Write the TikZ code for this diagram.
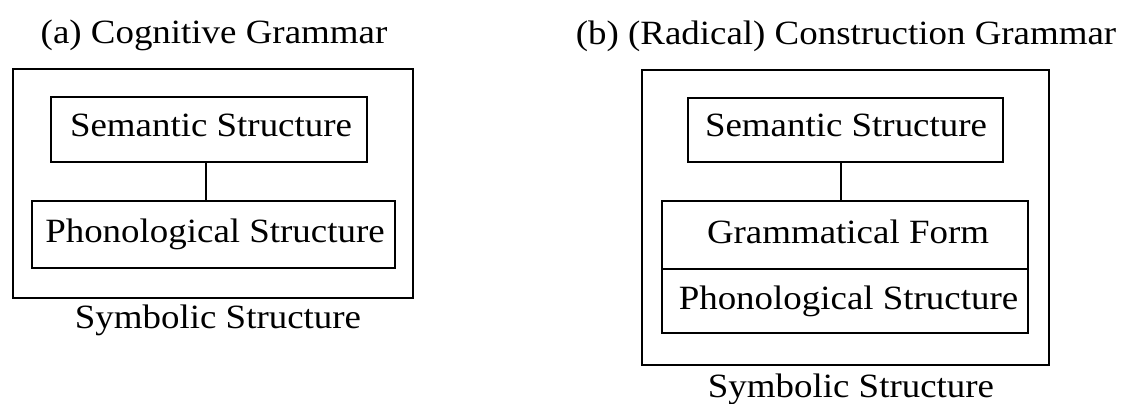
\documentclass[tikz,border=0pt]{standalone}
\usepackage{fontspec}
\setmainfont{Liberation Serif}[FakeStretch=1.086]
\begin{document}
\begin{tikzpicture}[x=0.5pt,y=-0.5pt,
  box/.style={draw=black, line width=1.2pt, rectangle, inner sep=0pt, outer sep=0pt},
  lbl/.style={anchor=base, inner sep=0pt, font=\fontsize{17}{20}\selectfont},
  link/.style={draw=black, line width=1.2pt}]
\useasboundingbox (0,0) rectangle (1125,403);

% (a) Cognitive Grammar
\node[lbl] (titleA) at (214,43) {(a) Cognitive Grammar};
\node[box, minimum width=200pt, minimum height=114.5pt] (outerA) at (213,183.5) {};
\node[box, minimum width=158pt, minimum height=32.5pt] (semA) at (209,129.5) {};
\node[box, minimum width=181.5pt, minimum height=33.5pt] (phonA) at (213.5,234.5) {};
\node[lbl] (semAtext) at (211,136) {Semantic Structure};
\node[lbl] (phonAtext) at (215,242) {Phonological Structure};
\node[lbl] (symA) at (218,328) {Symbolic Structure};
\coordinate (linkA) at (206,0);
\draw[link] (semA.south -| linkA) -- (phonA.north -| linkA);

% (b) (Radical) Construction Grammar
\node[lbl] (titleB) at (846,44) {(b) (Radical) Construction Grammar};
\node[box, minimum width=203.5pt, minimum height=147.5pt] (outerB) at (845.5,217.5) {};
\node[box, minimum width=157.5pt, minimum height=32pt] (semB) at (845.5,130) {};
\node[box, minimum width=183pt, minimum height=34pt] (gramB) at (845,235) {};
\node[box, minimum width=183pt, minimum height=32pt] (phonB) at (845,301) {};
\node[lbl] (semBtext) at (846,136) {Semantic Structure};
\node[lbl] (gramBtext) at (848,243) {Grammatical Form};
\node[lbl] (phonBtext) at (848.5,309) {Phonological Structure};
\node[lbl] (symB) at (851,397) {Symbolic Structure};
\coordinate (linkB) at (841,0);
\draw[link] (semB.south -| linkB) -- (gramB.north -| linkB);
\end{tikzpicture}
\end{document}
